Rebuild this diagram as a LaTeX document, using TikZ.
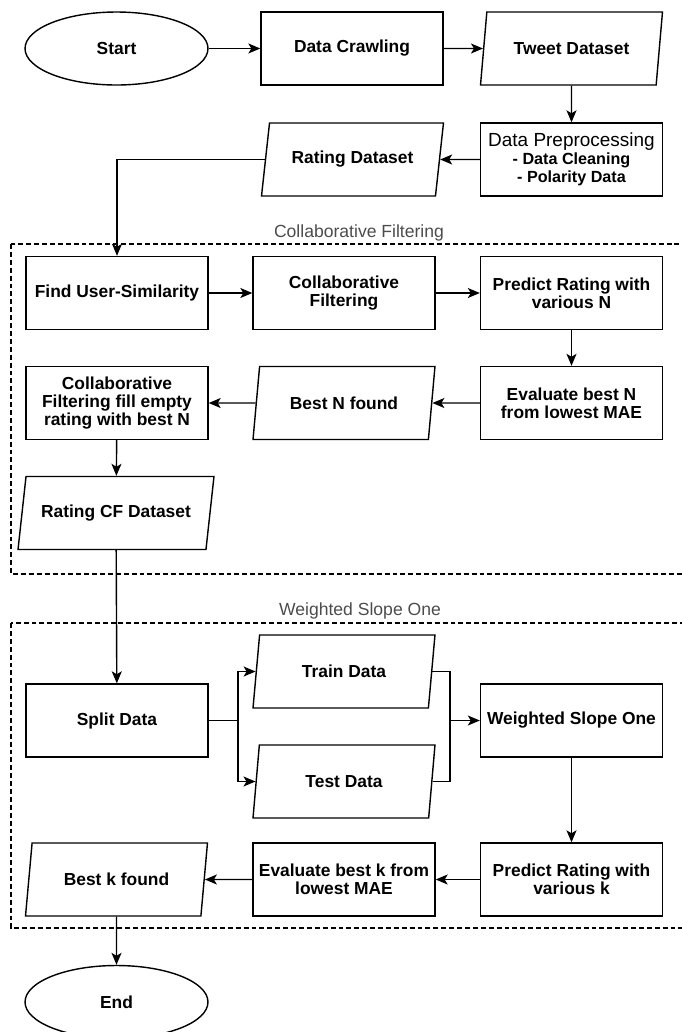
\documentclass[tikz,border=0pt]{standalone}
\usepackage{fontspec}
\setmainfont{Liberation Sans}
\usetikzlibrary{arrows.meta,shapes.geometric}
\tikzset{
  box/.style={draw, line width=0.8pt, align=center, inner sep=1pt, font=\fontsize{9.9}{10.4}\selectfont\bfseries},
  kproc/.style={box, rectangle, minimum width=3.64cm, minimum height=1.46cm},
  kdata/.style={box, trapezium, trapezium left angle=68, trapezium right angle=112, trapezium stretches body, minimum width=3.64cm, minimum height=1.46cm},
  kterm/.style={box, ellipse, minimum width=3.66cm, minimum height=1.46cm},
  kgroup/.style={draw, line width=0.6pt, dash pattern=on 2.8pt off 1.7pt},
  kgrouplabel/.style={font=\fontsize{10}{12}\selectfont, text=black!70},
  flow/.style={-{Stealth[length=2.4mm, width=2mm, inset=0.6mm]}, line width=0.8pt},
}
\begin{document}
\begin{tikzpicture}[x=0.02cm, y=-0.02cm]
    \useasboundingbox (0,0) rectangle (682,1032);
    \draw[kgroup] (11,244) rectangle (707,574);
    \draw[kgroup] (11,623) rectangle (707,928);
    \node[kgrouplabel] (cflabel) at (359,233) {Collaborative Filtering};
    \node[kgrouplabel] (wsolabel) at (360,611) {Weighted Slope One};
    \node[kterm] (start) at (116.5,48.5) {Start};
    \node[kproc] (crawl) at (352,48.5) {Data Crawling};
    \node[kdata] (tweet) at (571.5,48.5) {Tweet Dataset};
    \node[kproc] (prep) at (571.5,159.5) {{\mdseries\fontsize{10.8}{11.5}\selectfont Data Preprocessing}\\{\fontsize{9.2}{10}\selectfont - Data Cleaning}\\{\fontsize{9.2}{10}\selectfont - Polarity Data}};
    \node[kdata] (rating) at (352.5,159.5) {Rating Dataset};
    \node[kproc] (simil) at (117,293) {Find User-Similarity};
    \node[kproc] (cf) at (344,293) {Collaborative\\Filtering};
    \node[kproc] (predn) at (571.5,293) {Predict Rating with\\various N};
    \node[kproc] (evaln) at (571.5,403) {Evaluate best N\\from lowest MAE};
    \node[kdata] (bestn) at (344,403) {Best N found};
    \node[kproc] (fill) at (117,403) {Collaborative\\Filtering fill empty\\rating with best N};
    \node[kdata, minimum width=3.92cm] (ratingcf) at (116,513) {Rating CF Dataset};
    \node[kproc] (split) at (117,720.5) {Split Data};
    \node[kdata] (train) at (344,671.5) {Train Data};
    \node[kdata] (test) at (344,781.5) {Test Data};
    \node[kproc] (wso) at (571.5,720.5) {Weighted Slope One};
    \node[kproc] (predk) at (571.5,879.5) {Predict Rating with\\various k};
    \node[kproc] (evalk) at (344,879.5) {Evaluate best k from\\lowest MAE};
    \node[kdata] (bestk) at (116.5,879.5) {Best k found};
    \node[kterm] (finish) at (116.5,1002) {End};
    \coordinate (fork) at (238,720.5);
    \coordinate (merge) at (450,720.5);
    \draw[flow] (start) -- (crawl);
    \draw[flow] (crawl) -- (tweet);
    \draw[flow] (tweet) -- (prep);
    \draw[flow] (prep) -- (rating);
    \draw[flow] (rating.west) -| (simil.north);
    \draw[flow] (simil) -- (cf);
    \draw[flow] (cf) -- (predn);
    \draw[flow] (predn) -- (evaln);
    \draw[flow] (evaln) -- (bestn);
    \draw[flow] (bestn) -- (fill);
    \draw[flow] (fill) -- (ratingcf);
    \draw[flow] (ratingcf) -- (split);
    \draw[line width=0.8pt] (split) -- (fork);
    \draw[flow] (fork) |- (train.west);
    \draw[flow] (fork) |- (test.west);
    \draw[line width=0.8pt] (train.east) -| (merge);
    \draw[line width=0.8pt] (test.east) -| (merge);
    \draw[flow] (merge) -- (wso);
    \draw[flow] (wso) -- (predk);
    \draw[flow] (predk) -- (evalk);
    \draw[flow] (evalk) -- (bestk);
    \draw[flow] (bestk) -- (finish);
  \end{tikzpicture}
\end{document}
